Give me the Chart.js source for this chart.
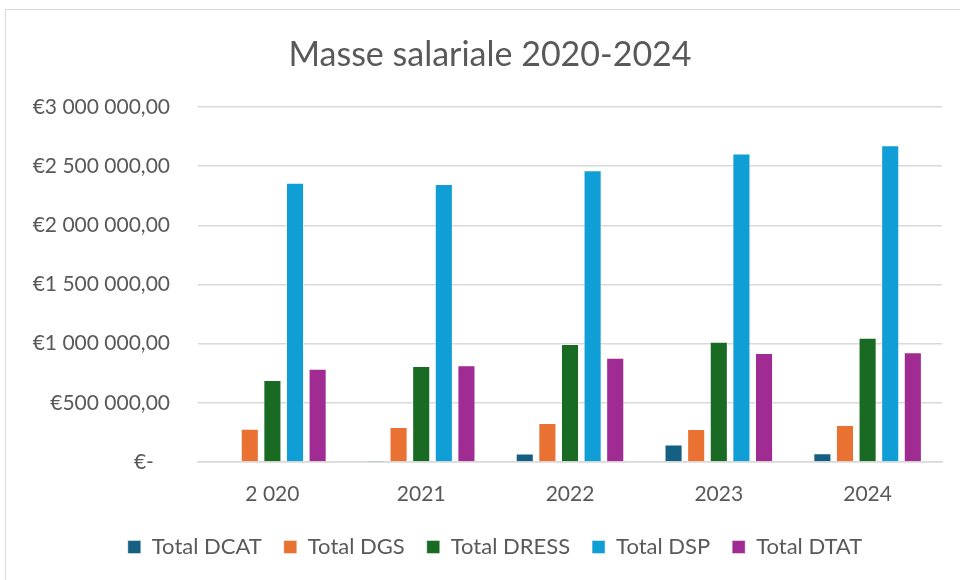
<!DOCTYPE html>
<html><head><meta charset="utf-8">
<script src="https://cdn.jsdelivr.net/npm/chart.js@4/dist/chart.umd.min.js"></script>
<style>
html,body{margin:0;padding:0;background:#fff;}
#wrap{position:relative;width:960px;height:580px;overflow:hidden;}
#frame{position:absolute;left:5px;top:9px;width:960px;height:600px;border:1px solid #d9d9d9;box-sizing:border-box;}
canvas{position:absolute;left:0;top:0;}
</style></head>
<body>
<div id="wrap"><div id="frame"></div><canvas id="c" width="960" height="580"></canvas></div>
<script>
const categories = ['2 020', '2021', '2022', '2023', '2024'];
const totalDCAT  = [0, 3000, 71000, 147000, 74000];
const totalDGS   = [282000, 296000, 330000, 279000, 313000];
const totalDRESS = [694000, 812000, 998000, 1017000, 1050000];
const totalDSP   = [2360000, 2349000, 2466000, 2607000, 2677000];
const totalDTAT  = [787000, 818000, 880000, 922000, 928000];
const seriesNames = ['Total DCAT', 'Total DGS', 'Total DRESS', 'Total DSP', 'Total DTAT'];
const colors = ['#156082', '#E97132', '#196B24', '#0F9ED5', '#A02B93'];
const chartTitle = 'Masse salariale 2020-2024';

const FONT = "Lato, 'Open Sans', sans-serif";
const TXT = '#595959';

function fmt(v){
  if (v === 0) return '€-\u00a0\u00a0\u00a0';
  const s = Math.round(v).toString().replace(/\B(?=(\d{3})+(?!\d))/g, ' ');
  return '€' + s + ',00';
}

const data = {
  labels: categories,
  datasets: [totalDCAT, totalDGS, totalDRESS, totalDSP, totalDTAT].map((d, i) => ({
    label: seriesNames[i],
    data: d,
    backgroundColor: colors[i],
    borderColor: 'rgba(255,255,255,0.45)',
    borderWidth: 1,
    barPercentage: 0.8,
    categoryPercentage: 0.76
  }))
};

// shift title and legend boxes horizontally (Excel centres them over the whole frame)
const shiftBoxes = {
  id: 'shiftBoxes',
  afterLayout(chart) {
    const t = chart.titleBlock, l = chart.legend;
    if (t) { t.left += 19; t.right += 19; }
    if (l) { l.left += 24; l.right += 24; }
  }
};

new Chart(document.getElementById('c'), {
  type: 'bar',
  data,
  plugins: [shiftBoxes],
  options: {
    responsive: false,
    animation: false,
    devicePixelRatio: 1,
    layout: { padding: { left: 0, right: 18, top: 0, bottom: 12 } },
    plugins: {
      title: {
        display: true,
        text: chartTitle,
        color: TXT,
        font: { family: FONT, size: 34, weight: 'normal', lineHeight: 1.2 },
        padding: { top: 35, bottom: 31.2 }
      },
      legend: {
        position: 'bottom',
        labels: {
          color: TXT,
          font: { family: FONT, size: 22 },
          boxWidth: 13,
          boxHeight: 13,
          padding: 22
        }
      },
      tooltip: { enabled: false }
    },
    scales: {
      x: {
        grid: { display: false, drawTicks: false },
        border: { display: true, color: '#d9d9d9', width: 1.5 },
        ticks: { color: TXT, font: { family: FONT, size: 21 }, padding: 20 },
        afterFit: (s) => { s.height = 52; }
      },
      y: {
        min: 0, max: 3000000,
        ticks: { stepSize: 500000, color: TXT, font: { family: FONT, size: 21 }, padding: 28, callback: (v) => fmt(v) },
        grid: { color: '#d9d9d9', lineWidth: 1.5, drawTicks: false },
        border: { display: false },
        afterFit: (s) => { s.width = 198; }
      }
    }
  }
});
</script>
</body></html>
